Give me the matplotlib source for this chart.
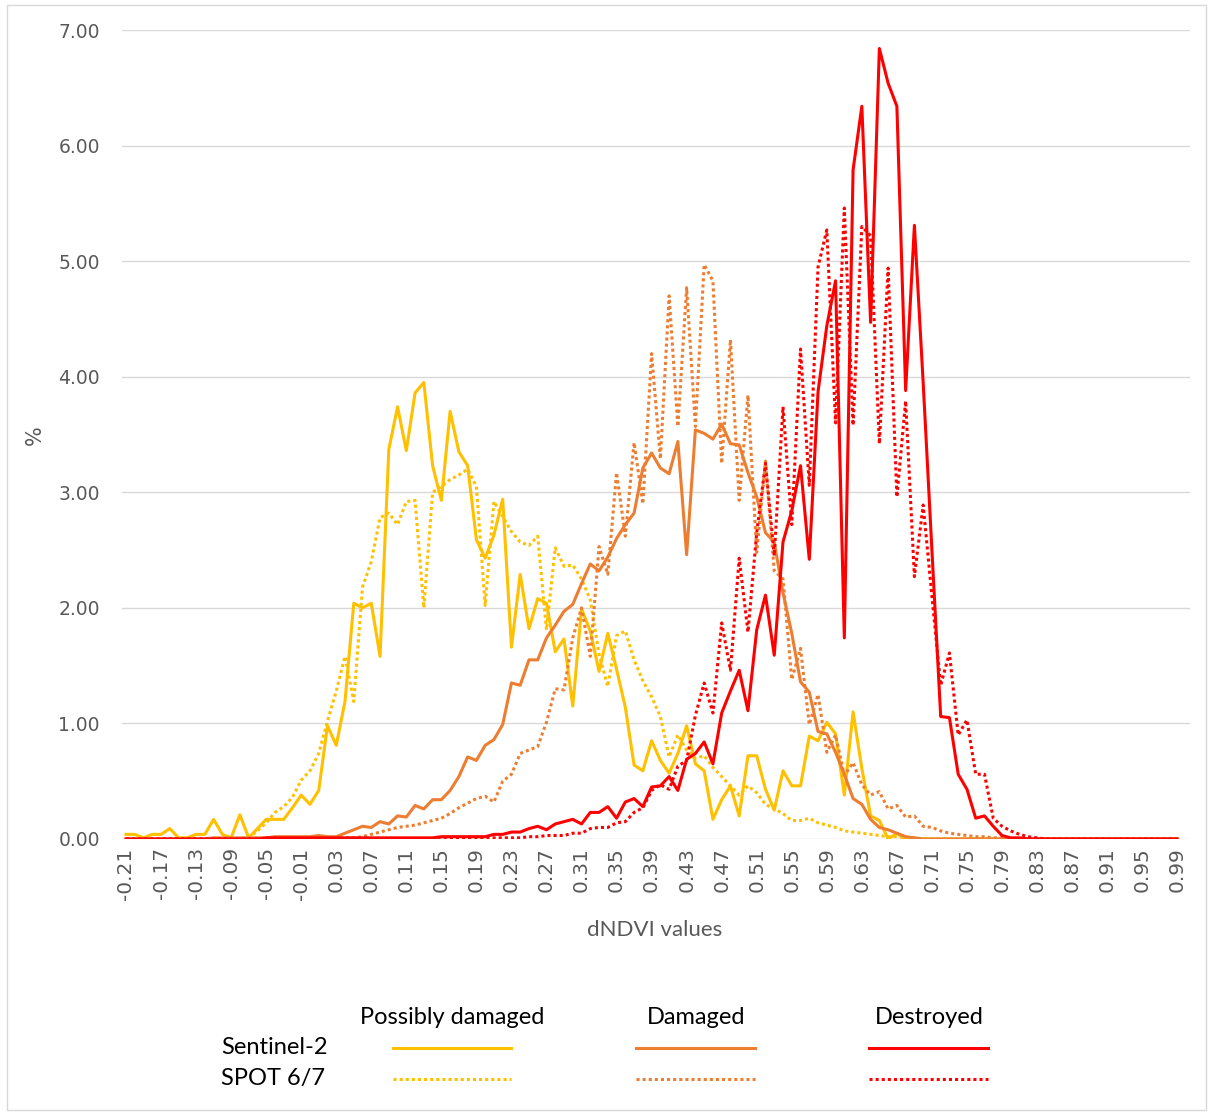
import numpy as np
import matplotlib
matplotlib.use("Agg")
import matplotlib.pyplot as plt
from matplotlib.lines import Line2D
from matplotlib.patches import Rectangle

# ---------------- data ----------------
dndvi = [round(-0.21 + 0.01 * k, 2) for k in range(121)]   # category values

s2_possibly = [0.04, 0.04, 0.01, 0.04, 0.04, 0.09, 0.01, 0.01, 0.04, 0.04,
               0.17, 0.04, 0.01, 0.21, 0.01, 0.09, 0.17, 0.17, 0.17, 0.27,
               0.38, 0.30, 0.42, 0.98, 0.81, 1.19, 2.04, 2.00, 2.04, 1.58,
               3.37, 3.74, 3.36, 3.86, 3.95, 3.23, 2.93, 3.70, 3.35, 3.23,
               2.59, 2.43, 2.63, 2.94, 1.66, 2.29, 1.82, 2.08, 2.04, 1.62,
               1.73, 1.15, 1.99, 1.80, 1.45, 1.78, 1.47, 1.14, 0.64, 0.59,
               0.85, 0.68, 0.57, 0.74, 0.98, 0.65, 0.59, 0.17, 0.34, 0.46,
               0.20, 0.72, 0.72, 0.43, 0.25, 0.59, 0.46, 0.46, 0.89, 0.85,
               1.01, 0.91, 0.38, 1.10, 0.61, 0.20, 0.16, 0.00, 0.05, 0.00,
               0.00, 0.00, 0.00, 0.00, 0.00, 0.00, 0.00, 0.00, 0.00, 0.00,
               0.00, 0.00, 0.00, 0.00, 0.00, 0.00, 0.00, 0.00, 0.00, 0.00,
               0.00, 0.00, 0.00, 0.00, 0.00, 0.00, 0.00, 0.00, 0.00, 0.00,
               0.00]

spot_possibly = [0.00, 0.00, 0.00, 0.00, 0.00, 0.00, 0.00, 0.00, 0.00, 0.00,
                 0.00, 0.00, 0.00, 0.00, 0.01, 0.07, 0.14, 0.23, 0.28, 0.36,
                 0.51, 0.59, 0.74, 1.02, 1.28, 1.58, 1.19, 2.18, 2.40, 2.78,
                 2.82, 2.72, 2.92, 2.93, 2.00, 3.00, 3.05, 3.11, 3.15, 3.20,
                 3.05, 2.02, 2.92, 2.79, 2.66, 2.57, 2.54, 2.62, 1.81, 2.52,
                 2.36, 2.37, 2.25, 2.07, 1.60, 1.32, 1.76, 1.80, 1.55, 1.37,
                 1.23, 1.06, 0.71, 0.90, 0.77, 0.70, 0.72, 0.62, 0.54, 0.46,
                 0.38, 0.46, 0.40, 0.30, 0.26, 0.22, 0.16, 0.16, 0.18, 0.14,
                 0.12, 0.10, 0.07, 0.06, 0.05, 0.04, 0.03, 0.02, 0.02, 0.01,
                 0.01, 0.00, 0.00, 0.00, 0.00, 0.00, 0.00, 0.00, 0.00, 0.00,
                 0.00, 0.00, 0.00, 0.00, 0.00, 0.00, 0.00, 0.00, 0.00, 0.00,
                 0.00, 0.00, 0.00, 0.00, 0.00, 0.00, 0.00, 0.00, 0.00, 0.00,
                 0.00]

s2_damaged = [0.00, 0.00, 0.00, 0.00, 0.00, 0.00, 0.00, 0.00, 0.00, 0.00,
              0.01, 0.01, 0.01, 0.01, 0.01, 0.01, 0.01, 0.02, 0.02, 0.02,
              0.02, 0.02, 0.03, 0.02, 0.02, 0.05, 0.08, 0.11, 0.10, 0.15,
              0.13, 0.20, 0.19, 0.29, 0.26, 0.34, 0.34, 0.42, 0.54, 0.71,
              0.68, 0.81, 0.86, 0.99, 1.35, 1.33, 1.55, 1.55, 1.74, 1.85,
              1.97, 2.03, 2.21, 2.38, 2.32, 2.44, 2.60, 2.72, 2.82, 3.21,
              3.34, 3.21, 3.16, 3.44, 2.46, 3.54, 3.51, 3.46, 3.59, 3.42,
              3.41, 3.17, 2.96, 2.65, 2.57, 2.13, 1.78, 1.36, 1.27, 0.93,
              0.91, 0.75, 0.56, 0.35, 0.30, 0.17, 0.10, 0.08, 0.05, 0.02,
              0.01, 0.00, 0.00, 0.00, 0.00, 0.00, 0.00, 0.00, 0.00, 0.00,
              0.00, 0.00, 0.00, 0.00, 0.00, 0.00, 0.00, 0.00, 0.00, 0.00,
              0.00, 0.00, 0.00, 0.00, 0.00, 0.00, 0.00, 0.00, 0.00, 0.00,
              0.00]

spot_damaged = [0.00, 0.00, 0.00, 0.00, 0.00, 0.00, 0.00, 0.00, 0.00, 0.00,
                0.00, 0.00, 0.00, 0.00, 0.00, 0.00, 0.00, 0.00, 0.00, 0.00,
                0.00, 0.01, 0.01, 0.01, 0.01, 0.01, 0.01, 0.02, 0.04, 0.06,
                0.08, 0.10, 0.11, 0.12, 0.14, 0.16, 0.18, 0.22, 0.27, 0.31,
                0.35, 0.37, 0.32, 0.50, 0.56, 0.74, 0.77, 0.80, 1.01, 1.30,
                1.29, 1.74, 2.00, 1.58, 2.53, 2.29, 3.17, 2.62, 3.43, 2.90,
                4.20, 3.29, 4.70, 3.57, 4.77, 3.57, 4.97, 4.83, 3.25, 4.32,
                2.93, 3.84, 2.48, 3.27, 2.32, 2.25, 1.38, 1.65, 0.99, 1.25,
                0.75, 0.90, 0.55, 0.66, 0.47, 0.38, 0.41, 0.26, 0.29, 0.19,
                0.20, 0.11, 0.10, 0.07, 0.05, 0.04, 0.03, 0.02, 0.02, 0.01,
                0.01, 0.00, 0.00, 0.00, 0.00, 0.00, 0.00, 0.00, 0.00, 0.00,
                0.00, 0.00, 0.00, 0.00, 0.00, 0.00, 0.00, 0.00, 0.00, 0.00,
                0.00]

s2_destroyed = [0.00, 0.00, 0.00, 0.00, 0.00, 0.00, 0.00, 0.00, 0.00, 0.00,
                0.00, 0.00, 0.00, 0.00, 0.00, 0.00, 0.01, 0.01, 0.01, 0.01,
                0.01, 0.01, 0.01, 0.01, 0.01, 0.01, 0.01, 0.01, 0.01, 0.01,
                0.01, 0.01, 0.01, 0.01, 0.01, 0.01, 0.02, 0.02, 0.02, 0.02,
                0.02, 0.02, 0.04, 0.04, 0.06, 0.06, 0.09, 0.11, 0.08, 0.13,
                0.15, 0.17, 0.13, 0.23, 0.23, 0.28, 0.18, 0.32, 0.35, 0.28,
                0.45, 0.46, 0.54, 0.42, 0.69, 0.74, 0.84, 0.65, 1.09, 1.28,
                1.46, 1.11, 1.81, 2.11, 1.59, 2.57, 2.84, 3.23, 2.42, 3.87,
                4.44, 4.83, 1.74, 5.79, 6.34, 4.47, 6.84, 6.54, 6.34, 3.88,
                5.31, 3.95, 2.50, 1.06, 1.05, 0.56, 0.43, 0.18, 0.20, 0.11,
                0.03, 0.01, 0.01, 0.00, 0.00, 0.00, 0.00, 0.00, 0.00, 0.00,
                0.00, 0.00, 0.00, 0.00, 0.00, 0.00, 0.00, 0.00, 0.00, 0.00,
                0.00]

spot_destroyed = [0.00, 0.00, 0.00, 0.00, 0.00, 0.00, 0.00, 0.00, 0.00, 0.00,
                  0.00, 0.00, 0.00, 0.00, 0.00, 0.00, 0.00, 0.00, 0.00, 0.00,
                  0.00, 0.00, 0.00, 0.00, 0.00, 0.00, 0.00, 0.00, 0.00, 0.00,
                  0.00, 0.00, 0.00, 0.00, 0.00, 0.00, 0.01, 0.01, 0.01, 0.01,
                  0.01, 0.01, 0.01, 0.01, 0.01, 0.01, 0.02, 0.02, 0.03, 0.03,
                  0.03, 0.05, 0.05, 0.09, 0.10, 0.10, 0.14, 0.15, 0.23, 0.27,
                  0.42, 0.47, 0.43, 0.63, 0.68, 1.07, 1.35, 1.09, 1.87, 1.46,
                  2.43, 1.79, 2.65, 3.25, 2.45, 3.74, 2.72, 4.24, 3.06, 4.95,
                  5.27, 3.60, 5.46, 3.58, 5.30, 5.22, 3.42, 4.94, 2.96, 3.79,
                  2.27, 2.89, 2.10, 1.33, 1.61, 0.90, 1.03, 0.56, 0.56, 0.18,
                  0.11, 0.07, 0.04, 0.02, 0.01, 0.00, 0.00, 0.00, 0.00, 0.00,
                  0.00, 0.00, 0.00, 0.00, 0.00, 0.00, 0.00, 0.00, 0.00, 0.00,
                  0.00]

col_headers = ["Possibly damaged", "Damaged", "Destroyed"]
row_labels = ["Sentinel-2", "SPOT 6/7"]
colors = ["#FFC000", "#ED7D31", "#FF0000"]

# ---------------- figure ----------------
W, H = 1213, 1115
fig = plt.figure(figsize=(W / 100, H / 100), dpi=100)
fig.patch.set_facecolor("white")

# outer chart frame
fig.add_artist(Rectangle((7 / W, 1 - 1110 / H), (1206 - 7) / W, (1110 - 5) / H,
                         transform=fig.transFigure, fill=False,
                         edgecolor="#D9D9D9", lw=1.0))

x0_px, x1_px, y0_px, y1_px = 122, 1190, 839, 30
ax = fig.add_axes([x0_px / W, 1 - y0_px / H, (x1_px - x0_px) / W, (y0_px - y1_px) / H])

x = np.arange(len(dndvi))
lw = 2.2
dot = (0, (1, 1))

ax.plot(x, spot_possibly, color=colors[0], lw=lw, ls=dot, zorder=3)
ax.plot(x, s2_possibly, color=colors[0], lw=lw, zorder=3)
ax.plot(x, spot_damaged, color=colors[1], lw=lw, ls=dot, zorder=3)
ax.plot(x, s2_damaged, color=colors[1], lw=lw, zorder=3)
ax.plot(x, spot_destroyed, color=colors[2], lw=lw, ls=dot, zorder=3)
ax.plot(x, s2_destroyed, color=colors[2], lw=lw, zorder=3)

step_px = 8.76
ax.set_xlim(-(126 - x0_px) / step_px, (x1_px - 126) / step_px)
ax.set_ylim(0, 7)

ax.set_yticks(np.arange(0, 8, 1))
ax.set_yticklabels([f"{v:.2f}" for v in np.arange(0, 8, 1)])
ax.set_xticks(x[::4])
ax.set_xticklabels([f"{v:.2f}" for v in dndvi[::4]], rotation=90)

ax.grid(axis="y", color="#D9D9D9", lw=1.0, zorder=0)
ax.set_axisbelow(True)
for s in ax.spines.values():
    s.set_visible(False)
ax.tick_params(axis="both", length=0, colors="#595959")
ax.tick_params(axis="y", pad=16, labelsize=13.5)
ax.tick_params(axis="x", pad=6, labelsize=14.5)
for lab in ax.get_xticklabels() + ax.get_yticklabels():
    lab.set_family("DejaVu Sans")

fig.text(655 / W, 1 - 930 / H, "dNDVI values", ha="center", va="center",
         fontsize=16, color="#595959", family="Lato")
fig.text(35 / W, 1 - 435 / H, "%", ha="center", va="center", rotation=90,
         fontsize=15, color="#595959", family="DejaVu Sans")

# ---------------- custom legend ----------------
head_x = [452, 696, 929]
line_x = [(393, 511), (636, 755), (869, 988)]
row_y = [1048, 1079]
for hx, txt in zip(head_x, col_headers):
    fig.text(hx / W, 1 - 1017 / H, txt, ha="center", va="center",
             fontsize=17, color="black", family="Lato")
for ry, txt in zip(row_y, row_labels):
    fig.text(221 / W, 1 - ry / H, txt, ha="left", va="center",
             fontsize=17, color="black", family="Lato")
for (xa, xb), c in zip(line_x, colors):
    fig.add_artist(Line2D([xa / W, xb / W], [1 - row_y[0] / H] * 2,
                          transform=fig.transFigure, color=c, lw=lw))
    fig.add_artist(Line2D([xa / W, xb / W], [1 - row_y[1] / H] * 2,
                          transform=fig.transFigure, color=c, lw=lw, ls=dot))

fig.savefig("out.png", dpi=100, facecolor="white")
